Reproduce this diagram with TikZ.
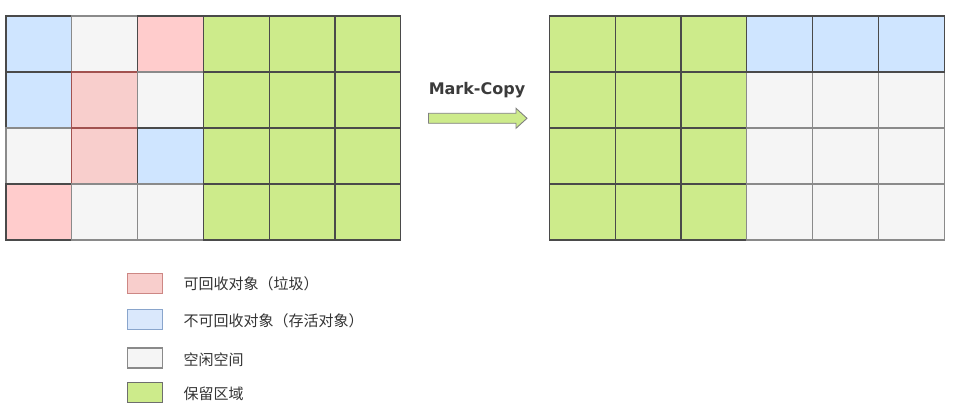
\documentclass[tikz,border=0pt]{standalone}
\usepackage{fontspec}
\newfontfamily\cjk{Noto Sans CJK SC}
\newfontfamily\mcfont{DejaVu Sans}
\definecolor{redA}{HTML}{FFCCCC}
\definecolor{redB}{HTML}{F8CECC}
\definecolor{redS}{HTML}{B85450}
\definecolor{blueA}{HTML}{CFE5FF}
\definecolor{blueL}{HTML}{DAE8FC}
\definecolor{blueS}{HTML}{6C8EBF}
\definecolor{grayF}{HTML}{F5F5F5}
\definecolor{grayS}{HTML}{8A8A8A}
\definecolor{greenF}{HTML}{CDEB8B}
\definecolor{darkS}{HTML}{4A4A4A}
\definecolor{txt}{HTML}{333333}
\tikzset{
  cell/.style={line width=1.2pt, minimum width=65.8pt, minimum height=56pt, inner sep=0pt, outer sep=0pt, anchor=north west},
  cr/.style={cell, fill=redA, draw=darkS},
  cp/.style={cell, fill=redB, draw=redS!80!darkS},
  cb/.style={cell, fill=blueA, draw=darkS},
  cg/.style={cell, fill=grayF, draw=grayS},
  cv/.style={cell, fill=greenF, draw=darkS},
  legbox/.style={line width=1.2pt, minimum width=35pt, minimum height=20pt, inner sep=0pt, anchor=west},
  legtxt/.style={anchor=west, text=txt, font=\cjk\fontsize{15}{17}\selectfont, inner sep=0pt},
}
\begin{document}
\begin{tikzpicture}[x=1pt,y=-1pt]
\useasboundingbox (0,0) rectangle (956,411);
% left grid: gray cells first, then coloured
\foreach \r/\row in {0/{b,g,r,v,v,v},1/{b,p,g,v,v,v},2/{g,p,b,v,v,v},3/{r,g,g,v,v,v}}{
  \foreach \t [count=\c from 0] in \row {
    \ifx\t g \node[cg] (L-\r-\c) at (6+\c*65.8, 16+\r*56) {};\fi
  }
}
\foreach \r/\row in {0/{b,g,r,v,v,v},1/{b,p,g,v,v,v},2/{g,p,b,v,v,v},3/{r,g,g,v,v,v}}{
  \foreach \t [count=\c from 0] in \row {
    \ifx\t g \else \node[c\t] (L-\r-\c) at (6+\c*65.8, 16+\r*56) {};\fi
  }
}
% right grid
\foreach \r/\row in {1/{v,v,v,g,g,g},2/{v,v,v,g,g,g},3/{v,v,v,g,g,g},0/{v,v,v,b,b,b}}{
  \foreach \t [count=\c from 0] in \row {
    \ifx\t g \node[cg] (R-\r-\c) at (549.3+\c*65.8, 16+\r*56) {};\fi
  }
}
\foreach \r/\row in {1/{v,v,v,g,g,g},2/{v,v,v,g,g,g},3/{v,v,v,g,g,g},0/{v,v,v,b,b,b}}{
  \foreach \t [count=\c from 0] in \row {
    \ifx\t g \else \node[c\t] (R-\r-\c) at (549.3+\c*65.8, 16+\r*56) {};\fi
  }
}
% arrow
\draw[draw=darkS!70, fill=greenF, line width=0.9pt, line join=miter]
  (428.5,113.3) -- (516,113.3) -- (516,108.3) -- (527,118.3) -- (516,128.3) -- (516,123.3) -- (428.5,123.3) -- cycle;
\node[text=txt!90!gray, font=\mcfont\bfseries\fontsize{16}{18}\selectfont, inner sep=0pt] (lbl) at (477,90) {Mark-Copy};
% legend
\node[legbox, fill=redB, draw=redS!70] (k1) at (126.5,283.8) {};
\node[legbox, fill=blueL, draw=blueS!80] (k2) at (126.5,319.7) {};
\node[legbox, fill=grayF, draw=grayS] (k3) at (126.5,358) {};
\node[legbox, fill=greenF, draw=darkS!80] (k4) at (126.5,392.5) {};
\node[legtxt] (t1) at (183.3,284.3) {可回收对象（垃圾）};
\node[legtxt] (t2) at (183.3,320.7) {不可回收对象（存活对象）};
\node[legtxt] (t3) at (183.3,359.3) {空闲空间};
\node[legtxt] (t4) at (183.3,394.3) {保留区域};
\end{tikzpicture}
\end{document}
